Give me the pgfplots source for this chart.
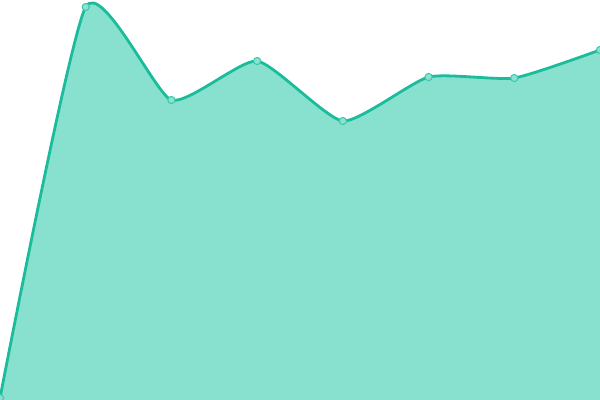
\documentclass[border=0pt]{standalone}
\usepackage{pgfplots}
\pgfplotsset{compat=1.18}
\definecolor{teal1}{HTML}{1ABC9C}
\definecolor{tealfill}{HTML}{88E0CF}
\definecolor{markfill}{HTML}{8AE2D0}
\definecolor{markedge}{HTML}{3FC6AA}
\begin{document}
\begin{tikzpicture}
\begin{axis}[
    hide axis,
    scale only axis,
    width=600bp, height=400bp,
    xmin=0, xmax=7,
    ymin=0, ymax=400,
    clip marker paths=true,
]
% series values (chart height units)
\addplot[draw=none, fill=tealfill, smooth, tension=0.33] coordinates {
    (0,2) (1,393) (2,300) (3,339) (4,279) (5,323) (6,322) (7,350)
} \closedcycle;
\addplot[teal1, line width=2.8bp, smooth, tension=0.33,
    mark=*, mark size=3.6bp,
    mark options={fill=markfill, draw=markedge, line width=1bp}] coordinates {
    (0,2) (1,393) (2,300) (3,339) (4,279) (5,323) (6,322) (7,350)
};
\end{axis}
\pgfresetboundingbox
\path (current axis.south west) rectangle (current axis.north east);
\end{tikzpicture}
\end{document}
